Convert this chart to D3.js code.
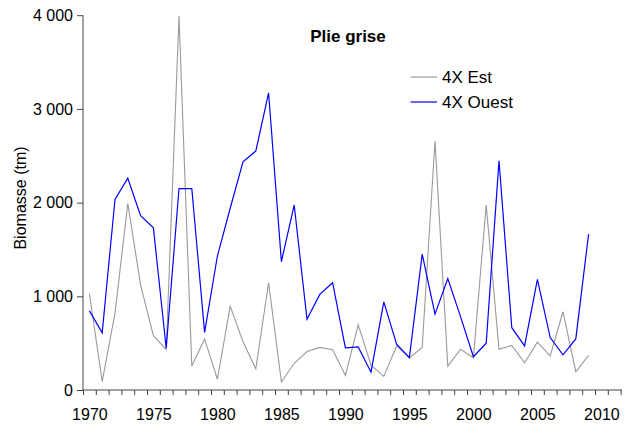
<!DOCTYPE html>
<html>
<head>
<meta charset="utf-8">
<script src="https://cdn.jsdelivr.net/npm/d3@7"></script>
<style>
  body { margin: 0; background: #fff; }
  text { font-family: Arial, "Liberation Sans", sans-serif; fill: #000; }
</style>
</head>
<body>
<script>
// years and biomass (tm)
var years = d3.range(1970, 2010);
var estValues = [1030, 90, 820, 1990, 1120, 580, 430, 3990, 255, 545,
                 115, 895, 515, 225, 1145, 85, 285, 410, 455, 430,
                 155, 695, 265, 145, 470, 345, 455, 2660, 255, 435,
                 345, 1975, 435, 475, 290, 510, 365, 835, 195, 370];
var ouestValues = [845, 610, 2035, 2260, 1860, 1730, 445, 2150, 2150, 615,
                   1430, 1940, 2435, 2550, 3170, 1370, 1975, 755, 1020, 1145,
                   450, 460, 190, 940, 490, 345, 1450, 810, 1190, 780,
                   355, 500, 2445, 665, 470, 1180, 560, 375, 545, 1665];
var yTicks = [0, 1000, 2000, 3000, 4000];
var xLabels = [1970, 1975, 1980, 1985, 1990, 1995, 2000, 2005, 2010];

var width = 626, height = 424;

var svg = d3.select("body").append("svg")
    .attr("width", width)
    .attr("height", height);

// category axis: one slot per year, ticks between slots
var x = d3.scaleLinear().domain([1969.5, 2011.5]).range([83, 620.6]);
var y = d3.scaleLinear().domain([0, 4000]).range([390, 15.2]);

var fr = d3.formatLocale({decimal: ",", thousands: " ", grouping: [3], currency: ["", ""]});

/* y axis */
var yAxis = svg.append("g")
    .attr("transform", "translate(83,0)")
    .call(d3.axisLeft(y).tickValues(yTicks).tickSize(6).tickPadding(4).tickFormat(fr.format(",")));
yAxis.select(".domain").attr("stroke", "#444").attr("d", "M0," + y(0) + "V" + y(4000));
yAxis.selectAll(".tick line").attr("stroke", "#444");
yAxis.selectAll("text").style("font-size", "16px").attr("fill", "#000");

/* x axis: year tick marks */
var xTickVals = d3.range(1969.5, 2012, 1);
var xAxis = svg.append("g")
    .attr("transform", "translate(0,390)")
    .call(d3.axisBottom(x).tickValues(xTickVals).tickSize(5).tickFormat(""));
xAxis.select(".domain").attr("stroke", "#444").attr("d", "M83,0H622");
xAxis.selectAll(".tick line").attr("stroke", "#444");

/* x labels, centred on their year */
var xLab = svg.append("g")
    .attr("transform", "translate(0,390)")
    .call(d3.axisBottom(x).tickValues(xLabels).tickSize(0).tickPadding(19).tickFormat(d3.format("d")));
xLab.select(".domain").remove();
xLab.selectAll("text").style("font-size", "16px").attr("fill", "#000");

/* lines */
var line = d3.line()
    .x(function(d) { return x(d.year); })
    .y(function(d) { return y(d.v); });

function toPts(vals) {
    return years.map(function(yr, i) { return {year: yr, v: vals[i]}; });
}

svg.append("path")
    .datum(toPts(estValues))
    .attr("fill", "none")
    .attr("stroke", "#9a9a9a")
    .attr("stroke-width", 1.1)
    .attr("d", line);

svg.append("path")
    .datum(toPts(ouestValues))
    .attr("fill", "none")
    .attr("stroke", "#0000ff")
    .attr("stroke-width", 1.2)
    .attr("d", line);

/* title */
svg.append("text")
    .attr("x", 348)
    .attr("y", 41.5)
    .attr("text-anchor", "middle")
    .style("font-size", "17px")
    .style("font-weight", "bold")
    .text("Plie grise");

/* legend */
var legend = [{name: "4X Est", color: "#9a9a9a", y: 77}, {name: "4X Ouest", color: "#0000ff", y: 102}];
legend.forEach(function(l) {
    svg.append("line")
        .attr("x1", 410.5).attr("x2", 437)
        .attr("y1", l.y).attr("y2", l.y)
        .attr("stroke", l.color)
        .attr("stroke-width", 1.2);
    svg.append("text")
        .attr("x", 442)
        .attr("y", l.y + 5.8)
        .style("font-size", "17px")
        .text(l.name);
});

/* y label */
svg.append("text")
    .attr("transform", "translate(26,198) rotate(-90)")
    .attr("text-anchor", "middle")
    .style("font-size", "16px")
    .text("Biomasse (tm)");
</script>
</body>
</html>
